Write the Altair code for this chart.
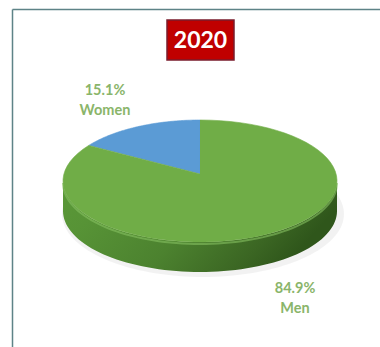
import altair as alt
import pandas as pd

# ---- data ----
categories = ["Women", "Men"]
values = [15.1, 84.9]
slice_colors = ["#5B9BD5", "#70AD47"]
title_text = ["2020"]

# ---- layout constants ----
W, H = 380, 347
CX, CY, RX, RY = 200, 181, 137, 61
APEX_Y = 174
DEPTH = 30
N = 72

df = pd.DataFrame({"category": categories, "value": values,
                   "order": list(range(len(categories)))})

xs = alt.Scale(domain=[0, W], nice=False, zero=False)
ys = alt.Scale(domain=[0, H], nice=False, zero=False, reverse=True)
color_scale = alt.Scale(domain=categories, range=slice_colors)


def X(f):
    return alt.X(f, type="quantitative", scale=xs, axis=None)


def Y(f):
    return alt.Y(f, type="quantitative", scale=ys, axis=None)


base = (
    alt.Chart(df)
    .transform_joinaggregate(total="sum(value)")
    .transform_window(cum="sum(value)", sort=[alt.SortField("order")], frame=[None, 0])
    .transform_calculate(a0="PI/2 + 2*PI*(datum.cum - datum.value)/datum.total")
    .transform_calculate(a1="PI/2 + 2*PI*datum.cum/datum.total")
)

# top face slices as polygons
slices = (
    base.transform_calculate(steps=f"sequence(0, {N + 2})")
    .transform_flatten(["steps"])
    .transform_calculate(ang=f"datum.a0 + (datum.a1 - datum.a0) * (datum.steps - 1) / {N}")
    .transform_calculate(px=f"datum.steps == 0 ? {CX} : {CX} + {RX}*cos(datum.ang)")
    .transform_calculate(py=f"datum.steps == 0 ? {APEX_Y} : {CY} - {RY}*sin(datum.ang)")
    .mark_line(filled=True, strokeWidth=0.6, interpolate="linear")
    .encode(
        x=X("px"),
        y=Y("py"),
        color=alt.Color("category:N", scale=color_scale, legend=None),
        stroke=alt.Stroke("category:N", scale=color_scale, legend=None),
        order=alt.Order("steps:Q"),
    )
)

# shadow under the pie
shadow = (
    alt.Chart(alt.sequence(0, N + 1, as_="t"))
    .transform_calculate(ang=f"PI*datum.t/{N}")
    .transform_calculate(px=f"{CX + 3} + {RX + 4}*cos(datum.ang)")
    .transform_calculate(py1=f"{CY + DEPTH + 3} - {RY + 2}*sin(datum.ang)")
    .transform_calculate(py2=f"{CY + DEPTH + 3} + {RY + 2}*sin(datum.ang)")
    .mark_area(color="#000000", opacity=0.05)
    .encode(x=X("px"), y=Y("py1"), y2=alt.Y2("py2"))
)

# front side wall
side_grad = alt.Gradient(
    gradient="linear", x1=0, y1=0, x2=1, y2=0.3,
    stops=[
        alt.GradientStop(offset=0, color="#5A9838"),
        alt.GradientStop(offset=0.2, color="#579336"),
        alt.GradientStop(offset=0.55, color="#4C822F"),
        alt.GradientStop(offset=0.85, color="#3B6623"),
        alt.GradientStop(offset=1, color="#2F561B"),
    ],
)
side = (
    alt.Chart(alt.sequence(0, N + 1, as_="t"))
    .transform_calculate(ang=f"PI + PI*datum.t/{N}")
    .transform_calculate(px=f"{CX} + {RX}*cos(datum.ang)")
    .transform_calculate(ptop=f"{CY} - {RY}*sin(datum.ang)")
    .transform_calculate(pbot=f"datum.ptop + {DEPTH}")
    .mark_area(color=side_grad)
    .encode(x=X("px"), y=Y("ptop"), y2=alt.Y2("pbot"))
)

# rim highlight
rim = (
    alt.Chart(alt.sequence(0, N + 1, as_="t"))
    .transform_calculate(ang=f"PI + PI*datum.t/{N}")
    .transform_calculate(px=f"{CX} + {RX}*cos(datum.ang)")
    .transform_calculate(py=f"{CY} - {RY}*sin(datum.ang) + 2")
    .mark_line(color="#86C060", strokeWidth=2, opacity=0.6)
    .encode(x=X("px"), y=Y("py"), order=alt.Order("t:Q"))
)

# labels
labels = (
    base.transform_calculate(mid="(datum.a0 + datum.a1)/2")
    .transform_calculate(lx=f"{CX} + 208*cos(datum.mid)")
    .transform_calculate(ly=f"{CY} - 10 - 90*sin(datum.mid) + (sin(datum.mid) < 0 ? {DEPTH + 8} : 0)")
    .transform_calculate(label="format(datum.value, '.1f') + '%\\n' + datum.category")
    .mark_text(font="Lato", fontWeight="bold", fontSize=14.5, color="#8AB56A",
               lineBreak="\n", lineHeight=20, align="center", baseline="middle")
    .encode(x=X("lx"), y=Y("ly"), text="label:N")
)

tdf = pd.DataFrame({"title": title_text})
title_box = alt.Chart(tdf).mark_rect(fill="#C00000", stroke="#7A1C2C", strokeWidth=1.5).encode(
    x=alt.value(167), x2=alt.value(234), y=alt.value(20), y2=alt.value(60)
)
title_txt = alt.Chart(tdf).mark_text(
    font="Lato", fontWeight="bold", fontSize=23, color="white", align="center", baseline="middle"
).encode(x=alt.value(200.5), y=alt.value(40.5), text="title:N")

frame_left = alt.Chart(tdf).mark_rule(stroke="#5E8387", strokeWidth=1.5).encode(
    x=alt.value(12.5), x2=alt.value(12.5), y=alt.value(9.5), y2=alt.value(H)
)
frame_top = alt.Chart(tdf).mark_rule(stroke="#5E8387", strokeWidth=1.5).encode(
    x=alt.value(12.5), x2=alt.value(W), y=alt.value(9.5), y2=alt.value(9.5)
)

chart = (
    alt.layer(shadow, side, rim, slices, labels, title_box, title_txt,
              frame_left, frame_top)
    .properties(width=W, height=H, padding=0, autosize="none", background="white")
    .configure_view(stroke="transparent", strokeWidth=0)
)

chart.save("out.html", embed_options={"renderer": "svg", "actions": False})
